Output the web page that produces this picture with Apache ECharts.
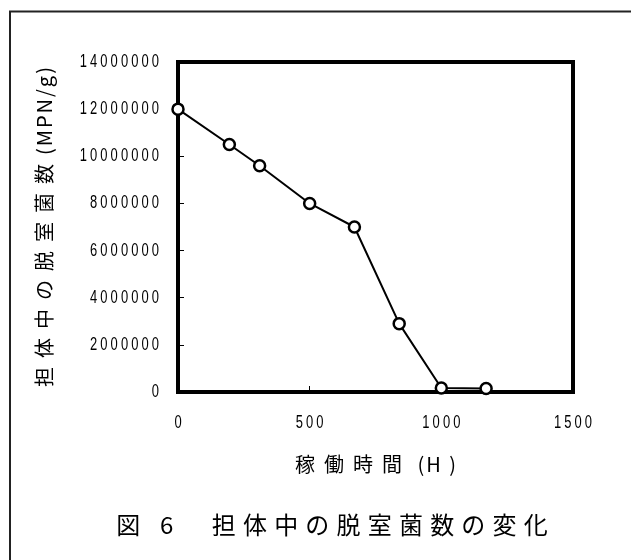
<!DOCTYPE html>
<html>
<head>
<meta charset="utf-8">
<script src="https://cdn.jsdelivr.net/npm/echarts@6/dist/echarts.min.js"></script>
<style>
  html, body { margin: 0; padding: 0; background: #fff; }
  #chart { width: 631px; height: 560px; }
</style>
</head>
<body>
<div id="chart"></div>
<script>
// Operating hours and denitrifying bacteria count in the carrier
const hours = [0, 195, 310, 500, 670, 840, 1000, 1170];
const counts = [12000000, 10500000, 9600000, 8000000, 7000000, 2900000, 170000, 150000];

const xTicks = { min: 0, max: 1500, interval: 500 };
const yTicks = { min: 0, max: 14000000, interval: 2000000 };

const xName = '稼働時間 (H )';
const yName = '担体中の脱室菌数(MPN/g)';
const figTitle = '図 6　担体中の脱室菌数の変化';

const CJK = '"Noto Sans CJK JP", "Noto Sans", sans-serif';
const DIGITS = '"Liberation Sans", Arial, sans-serif';

// Typesetting profiles by font size: horizontal squeeze, tracking for CJK and for Latin runs.
const TRACKING = {
  18: { sx: 0.72, cjk: 0, lat: 4.3 },   // tick numbers: condensed and spaced
  20: { sx: 1, cjk: 9, lat: 2 },        // axis names
  24: { sx: 1, cjk: 7.2, lat: 7.2 }     // figure caption
};
const CJK_RUN = /[\u3000-\u9fff\uff00-\uffef]+|[^\u3000-\u9fff\uff00-\uffef]+/g;
const IS_CJK = /[\u3000-\u9fff\uff00-\uffef]/;

const baseFillText = CanvasRenderingContext2D.prototype.fillText;
CanvasRenderingContext2D.prototype.fillText = function (text, x, y, maxWidth) {
  const m = /(\d+(?:\.\d+)?)px/.exec(this.font || '');
  const p = m ? TRACKING[Math.round(parseFloat(m[1]))] : null;
  text = String(text);
  if (!p || !text.length) {
    return maxWidth === undefined ? baseFillText.call(this, text, x, y)
                                  : baseFillText.call(this, text, x, y, maxWidth);
  }
  const runs = text.match(CJK_RUN) || [];
  const gaps = runs.map(r => IS_CJK.test(r) ? p.cjk : p.lat);
  const widths = runs.map((r, i) => this.measureText(r).width + r.length * gaps[i]);
  const total = widths.reduce((a, b) => a + b, 0) - gaps[gaps.length - 1];
  const align = this.textAlign;
  let start = 0;
  if (align === 'center') start = -total / 2;
  else if (align === 'right' || align === 'end') start = -total;

  this.save();
  this.translate(x, y);
  this.scale(p.sx, 1);
  this.textAlign = 'left';
  let cx = start;
  runs.forEach((r, i) => {
    this.letterSpacing = gaps[i] + 'px';
    baseFillText.call(this, r, cx, 0);
    cx += widths[i];
  });
  this.letterSpacing = '0px';
  this.restore();
};

const chart = echarts.init(document.getElementById('chart'), null, { renderer: 'canvas' });

const labelStyle = { color: '#000', fontFamily: DIGITS, fontSize: 18 };
const nameStyle = { color: '#000', fontFamily: CJK, fontSize: 20 };

chart.setOption({
  animation: false,
  backgroundColor: '#fff',
  title: {
    text: figTitle,
    left: 327,
    top: 508,
    textAlign: 'center',
    textStyle: { color: '#000', fontFamily: CJK, fontSize: 24, fontWeight: 'normal' }
  },
  graphic: [{
    type: 'polyline',
    shape: { points: [[10, 560], [10, 11.5], [631, 11.5]] },
    style: { stroke: '#222', lineWidth: 2, fill: null },
    silent: true
  }],
  grid: {
    left: 178, right: 58, top: 62, bottom: 168,
    show: true, borderColor: '#000', borderWidth: 4, backgroundColor: 'transparent'
  },
  xAxis: {
    type: 'value',
    min: xTicks.min, max: xTicks.max, interval: xTicks.interval,
    name: xName,
    nameLocation: 'middle',
    nameGap: 62,
    nameTextStyle: nameStyle,
    axisLine: { show: false },
    axisTick: { show: true, inside: true, length: 6, lineStyle: { color: '#000', width: 1 } },
    axisLabel: Object.assign({ margin: 22, formatter: v => String(v) }, labelStyle),
    splitLine: { show: false }
  },
  yAxis: {
    type: 'value',
    min: yTicks.min, max: yTicks.max, interval: yTicks.interval,
    name: yName,
    nameLocation: 'middle',
    nameGap: 124,
    nameRotate: 90,
    nameTextStyle: nameStyle,
    axisLine: { show: false },
    axisTick: { show: true, inside: true, length: 6, lineStyle: { color: '#000', width: 1 } },
    axisLabel: Object.assign({ margin: 19, formatter: v => String(v) }, labelStyle),
    splitLine: { show: false }
  },
  series: [{
    type: 'line',
    data: hours.map((h, i) => [h, counts[i]]),
    symbol: 'circle',
    symbolSize: 11,
    showAllSymbol: true,
    lineStyle: { color: '#000', width: 2 },
    itemStyle: { color: '#fff', borderColor: '#000', borderWidth: 2.5 },
    emphasis: { disabled: true }
  }]
});
</script>
</body>
</html>
